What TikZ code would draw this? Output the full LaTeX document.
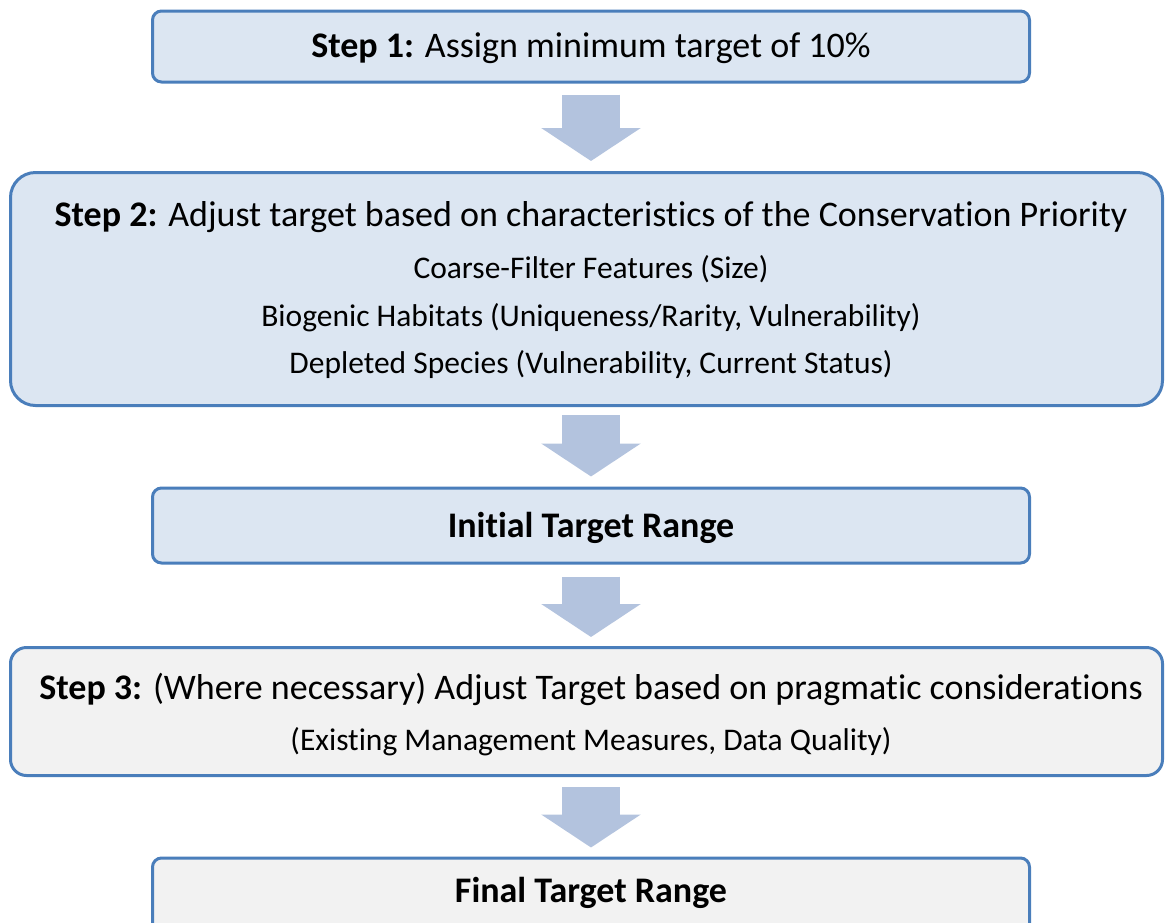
\documentclass[tikz,border=0pt]{standalone}
\usepackage{fontspec}
\setmainfont{Carlito}[Ligatures=NoCommon]
\usetikzlibrary{arrows.meta}
\definecolor{boxline}{HTML}{4A7EBB}
\definecolor{bluefill}{HTML}{DCE6F2}
\definecolor{greyfill}{HTML}{F2F2F2}
\definecolor{arrowfill}{HTML}{B3C3DE}
\tikzset{
  box/.style={draw=boxline, line width=3pt, rounded corners=9pt, inner sep=0pt},
  bluebox/.style={box, fill=bluefill},
  greybox/.style={box, fill=greyfill},
  bigtext/.style={font=\fontsize{36}{42}\selectfont, inner sep=0pt, anchor=base},
  smalltext/.style={font=\fontsize{31.5}{37}\selectfont, inner sep=0pt, anchor=base},
  blockarrow/.style={draw=arrowfill, line width=58pt,
    -{Triangle[width=98pt,length=33pt]}},
}
\begin{document}
\begin{tikzpicture}[x=1pt,y=-1pt]
\useasboundingbox (0,0) rectangle (1165,922);
\clip (0,0) rectangle (1165,922);
% boxes
\node[bluebox, minimum width=877pt, minimum height=71pt] (b1) at (591,46.5) {};
\node[bluebox, rounded corners=25pt, minimum width=1152pt, minimum height=233pt] (b2) at (586.5,289) {};
\node[bluebox, minimum width=877pt, minimum height=75pt] (b3) at (591,525.5) {};
\node[greybox, rounded corners=16pt, minimum width=1152pt, minimum height=128pt] (b4) at (586.5,711.5) {};
\node[greybox, minimum width=877pt, minimum height=80pt] (b5) at (591,898) {};
% texts
\node[bigtext] (t1) at (591,57) {\textbf{Step 1:} Assign minimum target of 10\%};
\node[bigtext] (t2) at (591,226) {\textbf{Step 2:} Adjust target based on characteristics of the Conservation Priority};
\node[smalltext] (t2a) at (591,278) {Coarse-Filter Features (Size)};
\node[smalltext] (t2b) at (591,326) {Biogenic Habitats (Uniqueness/Rarity, Vulnerability)};
\node[smalltext] (t2c) at (591,373) {Depleted Species (Vulnerability, Current Status)};
\node[bigtext] (t3) at (591,537) {\textbf{Initial Target Range}};
\node[bigtext] (t4) at (591,699) {\textbf{Step 3:} (Where necessary) Adjust Target based on pragmatic considerations};
\node[smalltext] (t4a) at (591,750) {(Existing Management Measures, Data Quality)};
\node[bigtext] (t5) at (591,902) {\textbf{Final Target Range}};
% arrows
\draw[blockarrow, shorten <=11pt, shorten >=10pt] (b1.south) -- (b1.south |- b2.north);
\draw[blockarrow, shorten <=8pt, shorten >=10pt] (b1.south |- b2.south) -- (b3.north);
\draw[blockarrow, shorten <=12pt, shorten >=9pt] (b3.south) -- (b3.south |- b4.north);
\draw[blockarrow, shorten <=10pt, shorten >=9pt] (b3.south |- b4.south) -- (b5.north);
\end{tikzpicture}
\end{document}
